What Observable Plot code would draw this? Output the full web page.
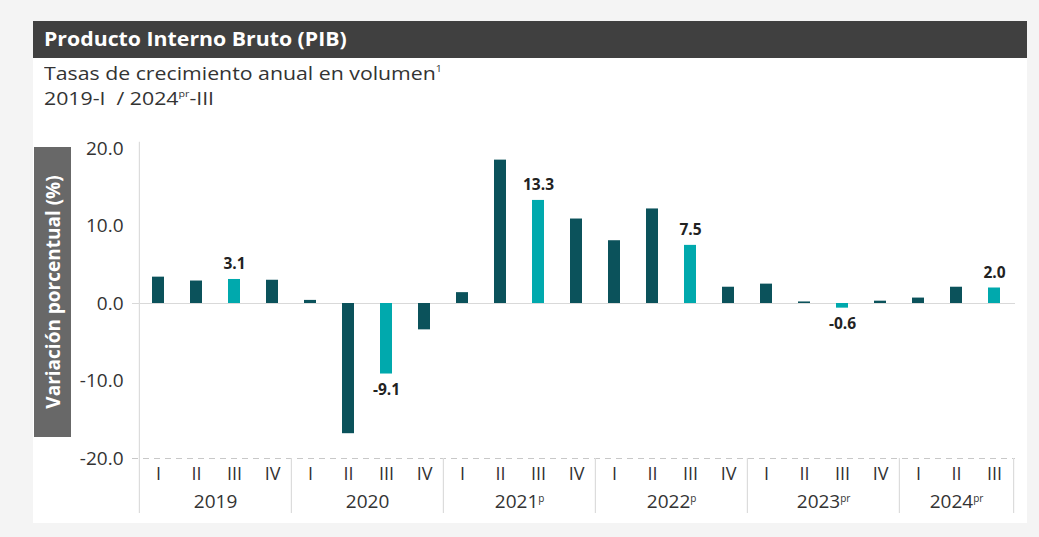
<!DOCTYPE html>
<html><head><meta charset="utf-8">
<script src="https://cdn.jsdelivr.net/npm/d3@7"></script>
<script src="https://cdn.jsdelivr.net/npm/@observablehq/plot@0.6"></script>
<style>
html,body{margin:0;padding:0;background:#f4f4f4;width:1039px;height:537px;overflow:hidden;font-family:"Open Sans",sans-serif;}
#panel{position:absolute;left:33px;top:21px;width:994px;height:502px;background:#fff;}
#titlebar{position:absolute;left:33px;top:21px;width:994px;height:37px;background:#404040;}
#title{position:absolute;left:44px;top:21px;height:37px;line-height:37px;color:#fff;font-weight:700;font-size:19px;transform:scaleX(1.12);transform-origin:0 50%;white-space:nowrap;}
#sub{position:absolute;left:44px;top:61px;color:#333;font-size:19px;line-height:25px;transform:scaleX(1.12);transform-origin:0 0;white-space:nowrap;}
#sub sup{font-size:9.5px;vertical-align:8px;line-height:0;}
#ylab{position:absolute;left:34px;top:147px;width:37px;height:290px;background:#686868;color:#fff;font-weight:700;font-size:19px;display:flex;align-items:center;justify-content:center;z-index:2;}
#ylab span{transform:rotate(-90deg);white-space:nowrap;}
#chart{position:absolute;left:33px;top:130px;}
</style>
</head>
<body>
<div id="panel"></div>
<div id="titlebar"></div>
<div id="title">Producto Interno Bruto (PIB)</div>
<div id="sub">Tasas de crecimiento anual en volumen<sup>1</sup><br>2019-I&nbsp; / 2024<sup>pr</sup>-III</div>
<div id="ylab"><span>Variación porcentual (%)</span></div>
<div id="chart"></div>
<script>
const quarterYear = ["2019","2019","2019","2019","2020","2020","2020","2020","2021","2021","2021","2021","2022","2022","2022","2022","2023","2023","2023","2023","2024","2024","2024"];
const quarterLabel = ["I","II","III","IV","I","II","III","IV","I","II","III","IV","I","II","III","IV","I","II","III","IV","I","II","III"];
const growth = [3.4,2.9,3.1,3.0, 0.4,-16.8,-9.1,-3.4, 1.4,18.5,13.3,10.9, 8.1,12.2,7.5,2.1, 2.5,0.2,-0.6,0.3, 0.7,2.1,2.0];
const years = ["2019","2020","2021","2022","2023","2024"];
const yearSup = ["","","p","p","pr","pr"];
const yTicks = [-20,-10,0,10,20];
const highlightQuarter = "III";

const darkColor = "#0b525b";
const lightColor = "#00a9ad";

const W = 994, H = 393, mL = 103, mR = 12, mT = 18, mB = 65;

const data = growth.map((v, i) => ({
  key: quarterYear[i] + "|" + quarterLabel[i],
  year: quarterYear[i],
  q: quarterLabel[i],
  v
}));
const keys = data.map(d => d.key);
const step = (W - mL - mR) / keys.length;

const yearInfo = years.map((y, i) => {
  const ks = data.filter(d => d.year === y).map(d => d.key);
  return {year: y, sup: yearSup[i], first: ks[0], last: ks[ks.length - 1], n: ks.length, mid: ks[Math.floor((ks.length - 1) / 2)]};
});

const labelled = data.filter(d => d.q === highlightQuarter);

const plot = Plot.plot({
  width: W, height: H,
  marginLeft: mL, marginRight: mR, marginTop: mT, marginBottom: mB,
  style: {fontFamily: "Open Sans, sans-serif", fontSize: "18px", color: "#333", background: "transparent", overflow: "visible"},
  x: {domain: keys, paddingInner: 0.69, paddingOuter: 0.345},
  y: {domain: [-20, 20]},
  color: {type: "identity"},
  marks: [
    Plot.ruleY([0], {stroke: "#d9d9d9", strokeWidth: 1.2, insetLeft: -4}),
    Plot.ruleY([-20], {stroke: "#c8c8c8", strokeWidth: 1.2, strokeDasharray: "6,5", insetLeft: -4}),
    Plot.ruleX([keys[0]], {x: d => d, y1: 20.8, y2: -27.1, dx: -step / 2, stroke: "#dcdcdc", strokeWidth: 1.2}),
    Plot.ruleX(yearInfo.slice(1), {x: "first", y1: -20, y2: -27.1, dx: -step / 2, stroke: "#dcdcdc", strokeWidth: 1.2}),
    Plot.ruleX([keys[keys.length - 1]], {x: d => d, y1: -20, y2: -27.1, dx: step / 2, stroke: "#dcdcdc", strokeWidth: 1.2}),
    Plot.barY(data, {x: "key", y: "v", fill: d => d.q === highlightQuarter ? lightColor : darkColor}),
    Plot.text(labelled.filter(d => d.v >= 0), {x: "key", y: "v", text: d => d.v.toFixed(1), dy: -15, lineAnchor: "middle", fontWeight: "bold", fontSize: 15.5, fill: "#222"}),
    Plot.text(labelled.filter(d => d.v < 0), {x: "key", y: "v", text: d => d.v.toFixed(1), dy: 16, lineAnchor: "middle", fontWeight: "bold", fontSize: 15.5, fill: "#222"}),
    Plot.axisY({ticks: yTicks, tickSize: 0, tickPadding: 13, tickFormat: d => d.toFixed(1), label: null, fill: "#333", fontSize: 19}),
    Plot.axisX({tickSize: 0, tickPadding: 9, tickFormat: k => k.split("|")[1], label: null, fill: "#333", fontSize: 18}),
    Plot.text(yearInfo.filter(d => d.n % 2 === 0), {x: "mid", text: "year", frameAnchor: "bottom", dy: 43, dx: step / 2, lineAnchor: "middle", fill: "#333", fontSize: 19}),
    Plot.text(yearInfo.filter(d => d.n % 2 === 1), {x: "mid", text: "year", frameAnchor: "bottom", dy: 43, lineAnchor: "middle", fill: "#333", fontSize: 19})
  ]
});

document.getElementById("chart").appendChild(plot);

// superscripts on year labels
const supByYear = Object.fromEntries(yearInfo.map(d => [d.year, d.sup]));
d3.select(plot).selectAll("text").each(function() {
  const t = d3.select(this);
  const s = supByYear[t.text()];
  if (s) {
    t.append("tspan").attr("font-size", 10).attr("dy", "-0.6em").text(s);
  }
});
</script>
</body></html>
